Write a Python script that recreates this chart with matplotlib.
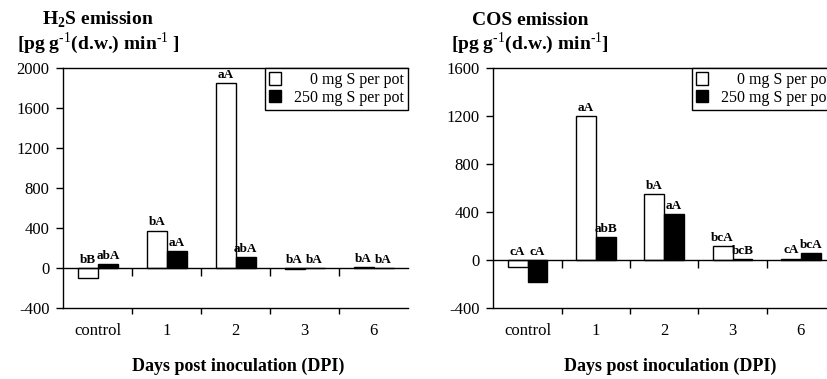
import matplotlib
matplotlib.use('Agg')
import matplotlib.pyplot as plt
import matplotlib.patches as patches
import numpy as np

plt.rcParams['font.family'] = ['Liberation Serif', 'DejaVu Serif']
plt.rcParams['mathtext.fontset'] = 'custom'
plt.rcParams['mathtext.rm'] = 'Liberation Serif'
plt.rcParams['mathtext.bf'] = 'Liberation Serif:bold'
plt.rcParams['axes.unicode_minus'] = False

# Data
days = ['control', '1', '2', '3', '6']

h2s_0 = [-100, 375, 1850, -10, 10]
h2s_250 = [40, 170, 110, 0, 0]
h2s_lab_0 = ['bB', 'bA', 'aA', 'bA', 'bA']
h2s_lab_250 = ['abA', 'aA', 'abA', 'bA', 'bA']

cos_0 = [-60, 1200, 550, 115, 12]
cos_250 = [-180, 188, 380, 10, 60]
cos_lab_0 = ['cA', 'aA', 'bA', 'bcA', 'cA']
cos_lab_250 = ['cA', 'abB', 'aA', 'bcB', 'bcA']

series_names = ['0 mg S per pot', '250 mg S per pot']

W, H = 828, 379
fig = plt.figure(figsize=(W / 100, H / 100), dpi=100)


def px_axes(x0, x1, y0, y1):
    # pixel box (top-left origin) -> figure fraction
    return fig.add_axes([x0 / W, 1 - y1 / H, (x1 - x0) / W, (y1 - y0) / H])


def panel(ax, v0, v250, lab0, lab250, ymin, ymax):
    x = np.arange(len(days))
    bw = 0.29
    ax.bar(x - bw / 2, v0, bw, color='white', edgecolor='black', linewidth=1.0, zorder=2)
    ax.bar(x + bw / 2, v250, bw, color='black', edgecolor='black', linewidth=1.0, zorder=2)

    for xi, v, lab in zip(x - bw / 2, v0, lab0):
        ax.annotate(lab, (xi, max(v, 0)), xytext=(0, 1.5), textcoords='offset points',
                    ha='center', va='bottom', fontsize=9.5, fontweight='bold')
    for xi, v, lab in zip(x + bw / 2, v250, lab250):
        ax.annotate(lab, (xi, max(v, 0)), xytext=(0, 1.5), textcoords='offset points',
                    ha='center', va='bottom', fontsize=9.5, fontweight='bold')

    ax.set_xlim(-0.5, len(days) - 0.5)
    ax.set_ylim(ymin, ymax)
    ax.set_yticks(np.arange(ymin, ymax + 1, 400))
    ax.tick_params(axis='y', direction='out', length=5, width=1, pad=5, labelsize=12)

    # category axis sits on zero, tick marks between groups
    ax.spines['bottom'].set_position(('data', 0))
    ax.set_xticks(x[:-1] + 0.5)
    ax.set_xticklabels([])
    ax.tick_params(axis='x', direction='out', length=6, width=1)
    ax.spines['right'].set_visible(False)
    for s in ['left', 'top', 'bottom']:
        ax.spines[s].set_linewidth(1.0)

    # bottom frame line with category names
    sec = ax.secondary_xaxis('bottom')
    sec.set_xticks(x, labels=days)
    sec.set_xticks(x[:-1] + 0.5, minor=True)
    sec.tick_params(which='major', length=0, pad=11, labelsize=12)
    sec.tick_params(which='minor', direction='out', length=4, width=1)
    sec.spines['bottom'].set_linewidth(1.0)

    handles = [patches.Patch(facecolor='white', edgecolor='black', linewidth=1),
               patches.Patch(facecolor='black', edgecolor='black', linewidth=1)]
    leg = ax.legend(handles, ['    ' + series_names[0], series_names[1]],
                    loc='upper right', bbox_to_anchor=(1, 1), borderaxespad=0,
                    fancybox=False, edgecolor='black', framealpha=1,
                    handlelength=0.8, handleheight=0.8, handletextpad=0.8,
                    borderpad=0.25, labelspacing=0.1, fontsize=11.5)
    leg.get_frame().set_linewidth(1.0)


ax1 = px_axes(63.5, 408, 68, 308)
panel(ax1, h2s_0, h2s_250, h2s_lab_0, h2s_lab_250, -400, 2000)

ax2 = px_axes(493.5, 835, 68, 308)
panel(ax2, cos_0, cos_250, cos_lab_0, cos_lab_250, -400, 1600)

# axis titles (two lines above each panel)
unit_l = r'[pg g$^{\text{-1}}$(d.w.) min$^{\text{-1}}$ ]'
unit_r = r'[pg g$^{\text{-1}}$(d.w.) min$^{\text{-1}}$]'
fig.text(98 / W, 1 - 25 / H, r'H$_\mathbf{2}$S emission', ha='center', va='baseline',
         fontsize=14, fontweight='bold')
fig.text(98 / W, 1 - 49 / H, unit_l, ha='center', va='baseline', fontsize=14,
         fontweight='bold')
fig.text(530 / W, 1 - 25 / H, 'COS emission', ha='center', va='baseline',
         fontsize=14, fontweight='bold')
fig.text(530 / W, 1 - 49 / H, unit_r, ha='center', va='baseline', fontsize=14,
         fontweight='bold')

fig.text(238 / W, 1 - 371 / H, 'Days post inoculation (DPI)', ha='center', va='baseline',
         fontsize=13, fontweight='bold')
fig.text(670 / W, 1 - 371 / H, 'Days post inoculation (DPI)', ha='center', va='baseline',
         fontsize=13, fontweight='bold')

fig.savefig('out.png', dpi=100, facecolor='white')
